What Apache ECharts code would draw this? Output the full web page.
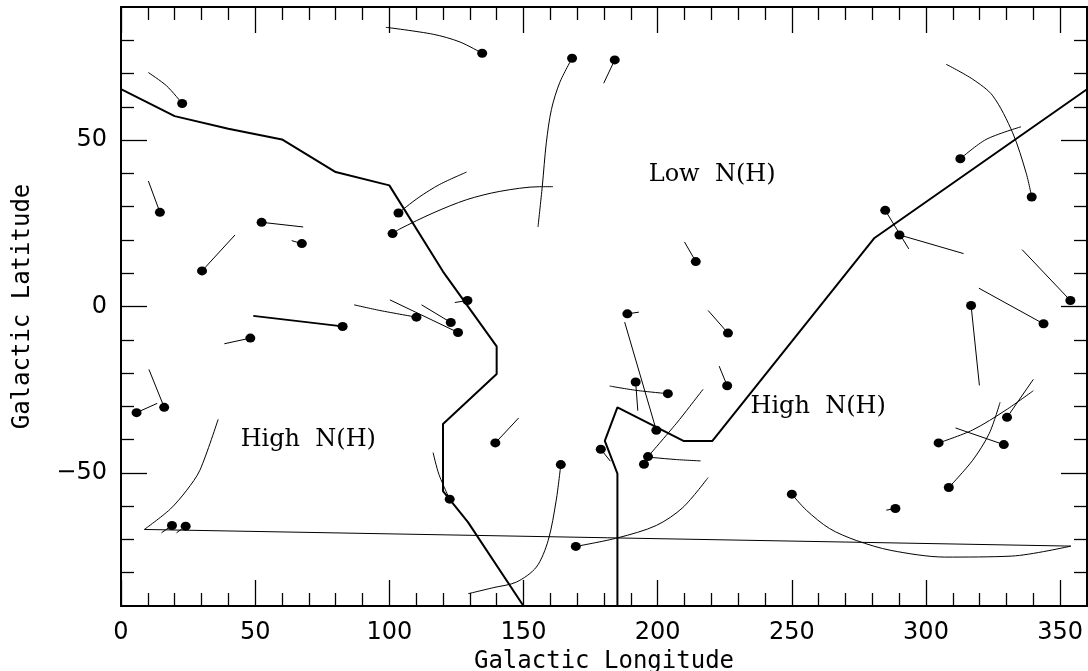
<!DOCTYPE html>
<html><head><meta charset="utf-8">
<script src="https://cdn.jsdelivr.net/npm/echarts@6/dist/echarts.min.js"></script>
<style>html,body{margin:0;padding:0;background:#fff;overflow:hidden;}#c{width:1088px;height:671px;}</style>
</head><body><div id="c"></div>
<script>
const xMajorTicks = [0, 50, 100, 150, 200, 250, 300, 350];
const xMinorTicks = [10, 20, 30, 40, 60, 70, 80, 90, 110, 120, 130, 140, 160, 170, 180, 190, 210, 220, 230, 240, 260, 270, 280, 290, 310, 320, 330, 340];
const yMajorTicks = [-50, 0, 50];
const yMinorTicks = [-80, -70, -60, -40, -30, -20, -10, 10, 20, 30, 40, 60, 70, 80];

const boundaryWest = [[0,65.3],[20,57.2],[40,53.4],[60,50.2],[80,40.4],[100,36.4],[120,10.5],[140,-12],[140,-20.3],[120,-35.3],[120,-55.5],[129.3,-64.8],[150,-90]];
const boundaryEast = [[185,-90],[185,-50.2],[180.3,-40.4],[185,-30.3],[209.6,-40.4],[220.4,-40.4],[280.8,20.6],[360,65.3]];
const wrapLine = [[8.7,-67],[354,-72]];

const stars = [
  [22.8,61.0],[14.5,28.3],[52.4,25.3],[67.4,18.9],[30.2,10.7],[103.4,28.1],[101.2,21.9],
  [134.6,76.1],[168.1,74.6],[184.0,74.1],[214.2,13.5],[129.1,1.8],[188.7,-2.2],[110.1,-3.2],
  [122.9,-4.8],[125.6,-7.8],[82.6,-6.0],[48.2,-9.5],[16.1,-30.3],[5.8,-31.9],[19.0,-65.8],
  [24.1,-66.0],[122.5,-57.9],[139.5,-41.0],[163.9,-47.5],[169.5,-72.1],[178.8,-42.9],
  [199.5,-37.2],[191.8,-22.7],[203.8,-26.2],[196.4,-45.1],[194.9,-47.4],[226.2,-8.0],
  [225.9,-23.8],[312.8,44.4],[339.4,32.9],[284.8,28.9],[290.1,21.5],[353.8,1.8],[316.8,0.3],
  [343.8,-5.2],[330.2,-33.3],[304.7,-41.0],[329.0,-41.5],[308.5,-54.4],[288.6,-60.7],[250.0,-56.4]
];

const trails = [
  [[22.8,61.0],[17,66.3],[10.2,70.3]],
  [[14.5,28.3],[10.2,37.7]],
  [[52.4,25.3],[67.9,23.9]],
  [[67.4,18.9],[63.6,19.8]],
  [[30.2,10.7],[42.5,21.5]],
  [[103.4,28.1],[111,32.8],[118.8,36.7],[128.8,40.4]],
  [[101.2,21.9],[103.9,23.3],[116.3,28.1],[128.8,32.1],[141.2,34.6],[156,36],[161,36]],
  [[134.6,76.1],[126.3,79.5],[116.4,81.8],[98.7,83.9]],
  [[168.1,74.6],[163.5,67.3],[160.4,59.2],[158.5,49.2],[157,36.1],[155.4,23.9]],
  [[184.0,74.1],[179.9,67.1]],
  [[214.2,13.5],[210,19.4]],
  [[129.1,1.8],[124.4,1.2]],
  [[188.7,-2.2],[193,-1.7]],
  [[110.1,-3.2],[96.5,-1.2],[86.9,0.5]],
  [[122.9,-4.8],[112,0.5]],
  [[125.6,-7.8],[100.2,2]],
  [[48.2,-9.5],[38.5,-11.2]],
  [[16.1,-30.3],[10.4,-18.9]],
  [[5.8,-31.9],[13.5,-29.1]],
  [[19.0,-65.8],[15.1,-68]],
  [[24.1,-66.0],[20.7,-68]],
  [[122.5,-57.9],[118.5,-50.5],[116.3,-43.9]],
  [[139.5,-41.0],[148.2,-33.5]],
  [[163.9,-47.5],[162.2,-58.2],[159.2,-70.3],[154.8,-78.3],[147.4,-82.8],[138.7,-84.5],[129.4,-86.3]],
  [[169.5,-72.1],[185.2,-69.5],[199.5,-65.8],[209.4,-60.4],[218.8,-51.4]],
  [[178.8,-42.9],[182.4,-46.5]],
  [[199.5,-37.2],[187.7,-4.7]],
  [[191.8,-22.7],[192.6,-31.3]],
  [[203.8,-26.2],[192,-25.2],[182.1,-23.9]],
  [[196.4,-45.1],[207,-35.1],[211.9,-30.1],[216.9,-24.9]],
  [[196.4,-45.3],[198.3,-45.4],[207,-46],[216,-46.4]],
  [[226.2,-8.0],[218.8,-1.2]],
  [[225.9,-23.8],[222.9,-17.9]],
  [[312.8,44.4],[322.4,50.2],[335.4,54]],
  [[339.4,32.9],[337.3,40.2],[332.3,52.2],[324.9,63.3],[317.4,68.3],[307.5,72.8]],
  [[284.8,28.9],[293.6,17.3]],
  [[290.1,21.5],[314,15.9]],
  [[353.8,1.8],[335.8,17.1]],
  [[316.8,0.3],[319.9,-23.7]],
  [[343.8,-5.2],[319.7,5.5]],
  [[330.2,-33.3],[340,-21.9]],
  [[304.7,-41.0],[317.4,-37.1],[329.8,-31.1],[340,-25.3]],
  [[329.0,-41.5],[311,-36.5]],
  [[308.5,-54.4],[317.4,-46.2],[323.6,-38.1],[327.6,-28.8]],
  [[288.6,-60.7],[285.2,-61.2]],
  [[250.0,-56.4],[255.4,-61.2],[264,-66.7],[274,-70.3],[287,-73.3],[307,-75.3],[332,-75],[354,-72]],
  [[8.7,-67],[18.2,-61],[24.5,-55.2],[29.4,-49.2],[36.2,-33.9]]
];
const thickTrail = [[82.6,-6.0],[49.3,-2.8]];

const regionNames = ['Low  N(H)', 'High  N(H)', 'High  N(H)'];
const regionPositions = [[220.3,39.7],[69.8,-40.1],[259.8,-30.1]];

const chart = echarts.init(document.getElementById('c'), null, {renderer:'canvas', width:1088, height:671});
const labelFont = {color:'#000', fontFamily:'DejaVu Sans', fontSize:24};
const nameFont = {color:'#000', fontFamily:'DejaVu Sans Mono', fontSize:24};

function xAx(pos, ticks, len, main, line) {
  return {
    type:'value', position:pos, min:0, max:360, gridIndex:0,
    axisLine:{show:line, onZero:false, lineStyle:{color:'#000', width:2}},
    axisTick:{show:true, inside:true, length:len, customValues:ticks, lineStyle:{color:'#000', width:1.3}},
    axisLabel: main ? Object.assign({show:true, customValues:xMajorTicks, margin:15}, labelFont) : {show:false},
    splitLine:{show:false},
    name: main ? 'Galactic Longitude' : '',
    nameLocation:'middle', nameGap:39, nameTextStyle:nameFont
  };
}
function yAx(pos, ticks, len, main, line) {
  return {
    type:'value', position:pos, min:-90, max:90, gridIndex:0,
    axisLine:{show:line, onZero:false, lineStyle:{color:'#000', width:2}},
    axisTick:{show:true, inside:true, length:len, customValues:ticks, lineStyle:{color:'#000', width:1.3}},
    axisLabel: main ? Object.assign({show:true, customValues:yMajorTicks, margin:14,
      formatter:(v)=> String(v).replace('-', '\u2212')}, labelFont) : {show:false},
    splitLine:{show:false},
    name: main ? 'Galactic Latitude' : '',
    nameLocation:'middle', nameGap:86, nameRotate:90, nameTextStyle:nameFont
  };
}

const series = [];
function lineSeries(data, width) {
  return {type:'line', data:data, xAxisIndex:0, yAxisIndex:0, showSymbol:false, symbol:'none',
    silent:true, animation:false, lineStyle:{color:'#000', width:width}, z:2};
}
series.push(lineSeries(boundaryWest, 2));
series.push(lineSeries(boundaryEast, 2));
series.push(lineSeries(wrapLine, 1));
series.push(lineSeries(thickTrail, 1.8));
trails.forEach(t => {
  const s = lineSeries(t, 1);
  if (t.length > 2) s.smooth = 0.3;
  series.push(s);
});
series.push({type:'scatter', data:stars, xAxisIndex:0, yAxisIndex:0, symbol:'circle', symbolSize:[10,9],
  itemStyle:{color:'#000', opacity:1}, silent:true, animation:false, z:5});
series.push({type:'scatter', xAxisIndex:0, yAxisIndex:0, symbolSize:0, silent:true, animation:false,
  itemStyle:{color:'#000', opacity:1},
  data: regionNames.map((n,i)=>({name:n, value:regionPositions[i]})),
  label:{show:true, position:'inside', formatter:(p)=>p.name, color:'#000', textBorderWidth:0,
    opacity:1, fontFamily:'DejaVu Serif', fontSize:24}, z:6});

chart.setOption({
  animation:false,
  backgroundColor:'#fff',
  grid:{left:121, top:7, width:966, height:599, containLabel:false, outerBoundsMode:'none'},
  xAxis:[xAx('bottom', xMajorTicks, 26, true, true), xAx('bottom', xMinorTicks, 13, false, false),
         xAx('top', xMajorTicks, 26, false, true), xAx('top', xMinorTicks, 13, false, false)],
  yAxis:[yAx('left', yMajorTicks, 26, true, true), yAx('left', yMinorTicks, 13, false, false),
         yAx('right', yMajorTicks, 26, false, true), yAx('right', yMinorTicks, 13, false, false)],
  series:series
});
</script></body></html>
